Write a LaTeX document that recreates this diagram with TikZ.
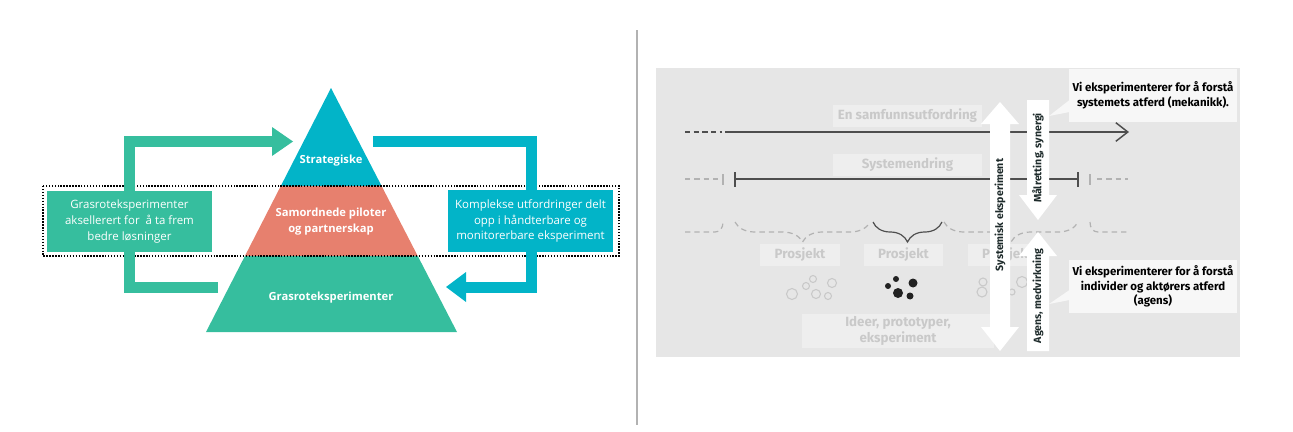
\documentclass[tikz,border=0pt]{standalone}
\usepackage{fontspec}
\setmainfont{Open Sans}
\newfontfamily\firafont{Fira Sans}
\usepackage{xcolor}
\usepackage{tikz}
\usetikzlibrary{decorations.pathreplacing, arrows.meta}

\definecolor{grasgreen}{HTML}{36BE9E}
\definecolor{stratblue}{HTML}{02B4C8}
\definecolor{pilotred}{HTML}{E7806E}
\definecolor{panelgray}{HTML}{E6E6E6}
\definecolor{labelgray}{HTML}{EEEEEE}
\definecolor{labeltext}{HTML}{C9C9C9}
\definecolor{linegray}{HTML}{4E4E4E}
\definecolor{dashgray}{HTML}{B2B2B2}
\definecolor{arrowtext}{HTML}{1E2B2B}
\definecolor{calloutfill}{HTML}{F7F7F7}
\definecolor{dotblack}{HTML}{222222}

\begin{document}
\begin{tikzpicture}[x=0.75pt, y=-0.75pt,
        flowbox/.style={text=white, align=center, inner sep=0pt, font=\fontsize{8.6}{11.8}\selectfont, minimum width=123.75pt},
        pyrlabel/.style={text=white, align=center, inner sep=0pt, font=\bfseries\fontsize{8.4}{12}\selectfont},
        graylabel/.style={fill=labelgray, text=labeltext, align=center, inner sep=0pt, font=\firafont\bfseries\fontsize{10}{12}\selectfont},
        arrowlabel/.style={text=arrowtext, rotate=90, inner sep=0pt, font=\firafont\bfseries\fontsize{7.9}{9}\selectfont},
        calloutbox/.style={fill=calloutfill, text=black, align=center, inner sep=0pt, minimum width=126pt, font=\firafont\bfseries\fontsize{8.6}{10.8}\selectfont},
        dashline/.style={dashgray, line width=0.9pt, dash pattern=on 4pt off 3pt},
        bracebase/.style={decorate, decoration={brace, mirror, amplitude=15pt}, line width=0.9pt}
    ]
        \useasboundingbox (0,0) rectangle (1293,432);

        % Pyramid
        \begin{scope}
            \clip (331,88) -- (457,332) -- (206,332) -- cycle;
            \fill[stratblue] (200,80) rectangle (470,186);
            \fill[pilotred] (200,186) rectangle (470,256);
            \fill[grasgreen] (200,256) rectangle (470,340);
        \end{scope}
        \node[pyrlabel] (strat) at (331,161) {Strategiske};
        \node[pyrlabel] (pilot) at (331,222) {Samordnede piloter\\og partnerskap};
        \node[pyrlabel] (gras) at (331,298) {Grasroteksperimenter};

        % Dotted band
        \draw[black, line width=1.1pt, dash pattern=on 1.1pt off 1.1pt] (43,186) rectangle (619,256);

        % Loop arrows
        \coordinate (gstart) at (218,287.5);
        \coordinate (gend) at (273,141.5);
        \draw[grasgreen, line width=8.25pt] (gstart) -- (129.5,287.5) -- (129.5,141.5) -- (gend);
        \fill[grasgreen] (272,127) -- (293,141.5) -- (272,156) -- cycle;

        \coordinate (bstart) at (373,141.5);
        \coordinate (bend) at (465,287);
        \draw[stratblue, line width=8.25pt] (bstart) -- (531.5,141.5) -- (531.5,287) -- (bend);
        \fill[stratblue] (466,272) -- (446,287) -- (466,302) -- cycle;

        \node[flowbox, fill=grasgreen, minimum height=45.75pt] (accel) at (129.5,221.5) {Grasroteksperimenter\\aksellerert for\ \ å ta frem\\bedre løsninger};
        \node[flowbox, fill=stratblue, minimum height=46.5pt] (komplex) at (530.5,221) {Komplekse utfordringer delt\\opp i håndterbare og\\monitorerbare eksperiment};

        % Divider
        \draw[black!30, line width=0.8pt] (637,30) -- (637,425);

        % Panel
        \fill[panelgray] (656,68) rectangle (1240,357);

        % Row 1
        \draw[linegray, line width=1.1pt, dash pattern=on 4pt off 2.5pt] (685,132) -- (722,132);
        \draw[linegray, line width=1.1pt, -{Straight Barb[length=9pt, width=14pt]}] (725,132) -- (1129,132);

        % Row 2
        \draw[dashline] (685,179) -- (719,179);
        \draw[dashgray, line width=0.8pt] (723,174) -- (723,185);
        \draw[linegray, line width=1.6pt] (735,172) -- (735,187);
        \draw[linegray, line width=1.1pt] (735,179) -- (1078,179);
        \draw[linegray, line width=1.6pt] (1078,172) -- (1078,187);
        \draw[dashgray, line width=0.8pt] (1090,174) -- (1090,185);
        \draw[dashline] (1097,179) -- (1128,179);

        % Row 3
        \draw[dashline] (685,232) -- (715,232) .. controls (720,232) and (723,228) .. (723,222);
        \draw[bracebase, dashgray, dash pattern=on 4pt off 3pt] (735,222) -- (870,222);
        \draw[bracebase, linegray] (873,222) -- (942,222);
        \draw[bracebase, dashgray, dash pattern=on 4pt off 3pt] (944,222) -- (1078,222);
        \draw[dashline] (1090,222) .. controls (1090,228) and (1093,232) .. (1098,232) -- (1128,232);

        % Labels
        \node[graylabel, minimum width=111.75pt, minimum height=16.5pt] (samf) at (907.5,116) {En samfunnsutfordring};
        \node[graylabel, minimum width=111.75pt, minimum height=16.5pt] (sysend) at (907.5,165) {Systemendring};
        \node[graylabel, minimum width=60pt, minimum height=16.5pt] (prosa) at (800,255) {Prosjekt};
        \node[graylabel, minimum width=59.25pt, minimum height=16.5pt] (prosb) at (903.5,255) {Prosjekt};
        \node[graylabel, minimum width=59.25pt, minimum height=16.5pt] (prosc) at (1007.5,255) {Prosjekt};
        \node[graylabel, minimum width=144pt, minimum height=25.5pt] (ideer) at (898,331) {Ideer, prototyper,\\eksperiment};

        % Ideas
        \foreach \cx/\cy/\r in {792/294/5.5, 806/286/3.5, 813/279/3.5, 816/294/4.5, 828/296/3.5, 832/283/4.5,
                                983/282/4, 982/292/5, 1022/282/5.5, 1012/292/3}
            \draw[labeltext, line width=0.8pt] (\cx,\cy) circle[radius=\r];
        \foreach \cx/\cy/\r in {888/286/3, 896/279/3, 913/283/4.5, 898/293/5, 910/296/3.5}
            \fill[dotblack] (\cx,\cy) circle[radius=\r];

        % White arrows
        \fill[white] (1000,102) -- (1019,124) -- (1010,124) -- (1010,327) -- (1019,327) -- (1000,351)
            -- (981,327) -- (990,327) -- (990,124) -- (981,124) -- cycle;
        \fill[white] (1027,100) -- (1049,100) -- (1049,195) -- (1057,195) -- (1038,220) -- (1019,195) -- (1027,195) -- cycle;
        \fill[white] (1038,232) -- (1057,256) -- (1049,256) -- (1049,351) -- (1027,351) -- (1027,256) -- (1019,256) -- cycle;
        \node[arrowlabel] (sysexp) at (1000,215) {Systemisk eksperiment};
        \node[arrowlabel] (malr) at (1038,158) {Målretting, synergi};
        \node[arrowlabel] (agens) at (1038,296) {Agens, medvirkning};

        % Callouts
        \node[calloutbox, minimum height=39.75pt] (mekanikk) at (1153,95.5) {Vi eksperimenterer for å forstå\\systemets atferd (mekanikk).};
        \fill[calloutfill] (1069.5,100) -- (1049,116) -- (1069.5,112) -- cycle;
        \node[calloutbox, minimum height=39.75pt] (aktor) at (1153,286.5) {Vi eksperimenterer for å forstå\\individer og aktørers atferd\\(agens)};
        \fill[calloutfill] (1069.5,290) -- (1049,304) -- (1069.5,300) -- cycle;
\end{tikzpicture}
\end{document}
